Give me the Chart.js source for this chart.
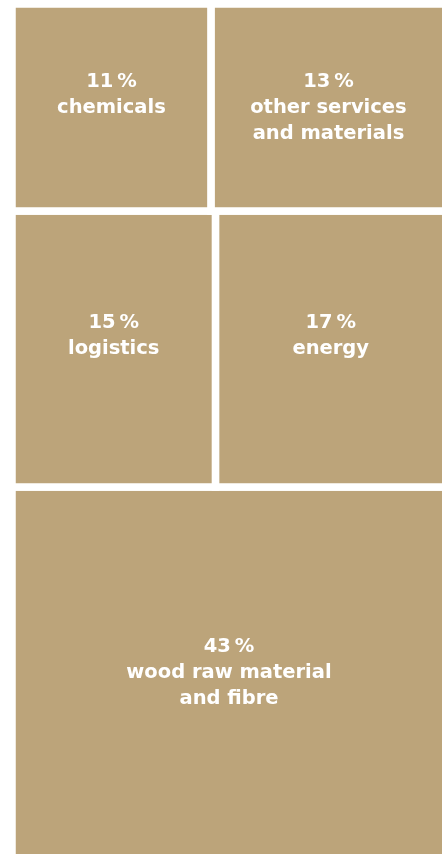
<!DOCTYPE html>
<html>
<head>
<meta charset="utf-8">
<script src="https://cdn.jsdelivr.net/npm/chart.js@4.4.0/dist/chart.umd.min.js"></script>
<style>
  html, body { margin: 0; padding: 0; background: #fff; overflow: hidden; }
  #wrap { position: relative; width: 446px; height: 858px; }
</style>
</head>
<body>
<div id="wrap"><canvas id="treemap"></canvas></div>
<script>
// cost shares, in %
const categories = [['chemicals'], ['other services', 'and materials'], ['logistics'], ['energy'], ['wood raw material', 'and fibre']];
const shares = [11, 13, 15, 17, 43];
const rowOf = [0, 0, 1, 1, 2];

const tan = '#bca47a';
const lineH = 26;

// slice layout: each row gets height by its sum, each cell width by its share of the row
const total = shares.reduce((a, b) => a + b, 0);
const rowSums = [];
shares.forEach((v, i) => { rowSums[rowOf[i]] = (rowSums[rowOf[i]] || 0) + v; });

const rects = [];
let yPos = 0;
rowSums.forEach((rs, r) => {
  const h = rs / total;
  let xPos = 0;
  shares.forEach((v, i) => {
    if (rowOf[i] !== r) return;
    const w = v / rs;
    rects.push({ i: i, x0: xPos, x1: xPos + w, y0: yPos, y1: yPos + h });
    xPos += w;
  });
  yPos += h;
});

const datasets = rects.map(r => ({
  label: categories[r.i].join(' '),
  data: [
    { x: r.x0, y: r.y0 }, { x: r.x1, y: r.y0 },
    { x: r.x1, y: r.y1 }, { x: r.x0, y: r.y1 },
    { x: r.x0, y: r.y0 }
  ],
  showLine: true,
  fill: 'shape',
  backgroundColor: tan,
  borderColor: '#fff',
  borderWidth: 7.5,
  borderJoinStyle: 'miter',
  pointRadius: 0,
  tension: 0,
  clip: false
}));

const labelPlugin = {
  id: 'cellLabels',
  afterDatasetsDraw(chart) {
    const ctx = chart.ctx;
    const xs = chart.scales.x, ys = chart.scales.y;
    ctx.save();
    ctx.fillStyle = '#fff';
    ctx.font = 'bold 19.5px "DejaVu Sans"';
    ctx.textAlign = 'center';
    ctx.textBaseline = 'middle';
    rects.forEach(r => {
      const cx = xs.getPixelForValue((r.x0 + r.x1) / 2);
      const cy = ys.getPixelForValue((r.y0 + r.y1) / 2);
      const lines = [shares[r.i] + '\u202F%'].concat(categories[r.i]);
      lines.forEach((t, k) => ctx.fillText(t, cx, cy - lineH + k * lineH));
    });
    ctx.restore();
  }
};

new Chart(document.getElementById('treemap'), {
  type: 'scatter',
  data: { datasets: datasets },
  options: {
    responsive: true,
    maintainAspectRatio: false,
    animation: false,
    layout: { padding: { left: 12, top: 4, right: 0, bottom: 0 } },
    scales: {
      x: { type: 'linear', min: 0, max: 1, display: false },
      y: { type: 'linear', min: 0, max: 1, reverse: true, display: false }
    },
    plugins: {
      legend: { display: false },
      tooltip: { enabled: false }
    }
  },
  plugins: [labelPlugin]
});
</script>
</body>
</html>
